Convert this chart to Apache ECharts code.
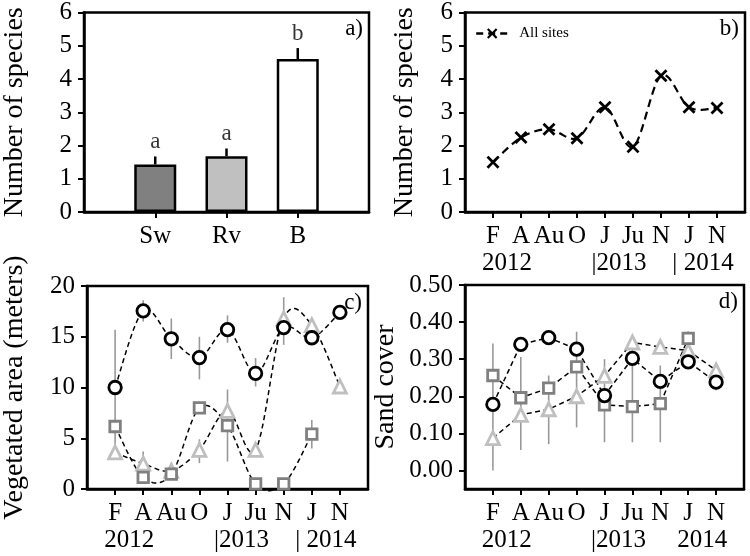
<!DOCTYPE html>
<html><head><meta charset="utf-8">
<script src="https://cdn.jsdelivr.net/npm/echarts@6/dist/echarts.min.js"></script>
<style>html,body{margin:0;padding:0;background:#fff}#c{width:750px;height:556px}</style>
</head><body><div id="c"></div><script>
const FONT = 'Liberation Serif';
// ---- panel a ----
const sites = ['Sw', 'Rv', 'B'];
const siteMeans = [1.43, 1.68, 4.60];
const siteErr = [0.24, 0.23, 0.33];
const siteLetters = ['a', 'a', 'b'];
const siteColors = ['#808080', '#c0c0c0', '#ffffff'];
// ---- shared months ----
const months = ['F', 'A', 'Au', 'O', 'J', 'Ju', 'N', 'J', 'N'];
const yearLabelsTop = ['2012', '|2013', '| 2014'];
const yearLabelsD = ['2012', '|2013', '2014'];
// ---- panel b ----
const allSites = [1.5, 2.24, 2.49, 2.22, 3.15, 1.96, 4.10, 3.15, 3.13];
// ---- panel c ----
const vegCircle = [10.0, 17.55, 14.8, 12.95, 15.7, 11.4, 15.9, 14.9, 17.4];
const vegCircleLo = [4.3, 16.5, 12.8, 10.8, 14.4, 10.1, 14.2, null, null];
const vegCircleHi = [15.7, 18.6, 16.8, 15.0, 17.1, 12.9, 18.9, null, null];
const vegSquare = [6.16, 1.15, 1.47, 8.0, 6.25, 0.5, 0.5, 5.4, null];
const vegSquareLo = [null, 0.6, 1.0, null, 2.7, null, null, 4.0, null];
const vegSquareHi = [null, 1.7, 2.06, null, 9.8, null, null, 6.8, null];
const vegTri = [3.6, 2.5, 1.8, 3.86, 7.7, 3.86, 16.8, 16.15, 10.1];
const vegTriLo = [null, 1.4, null, 2.55, null, 3.2, null, null, null];
const vegTriHi = [null, 3.7, null, 4.9, null, 4.5, null, null, null];
// ---- panel d ----
const sandCircle = [0.178, 0.34, 0.358, 0.327, 0.202, 0.302, 0.24, 0.293, 0.238];
const sandSquare = [0.256, 0.196, 0.222, 0.279, 0.177, 0.172, 0.18, 0.356, null];
const sandTri = [0.087, 0.15, 0.165, 0.2, 0.255, 0.345, 0.333, 0.323, 0.27];
const sandErrLo = [0.0, 0.055, 0.071, 0.116, 0.076, 0.076, 0.076, 0.33, 0.216];
const sandErrHi = [0.342, 0.306, 0.256, 0.374, 0.30, 0.345, 0.283, 0.375, 0.26];
const sandTicks = [0, 0.1, 0.2, 0.3, 0.4, 0.5];

const padCats = ['', ...months, ''];
const pad = arr => [null, ...arr, null];

const DARK = '#808080', LIGHT = '#bfbfbf', BLACK = '#000', ERRC = '#999999';
const XPATH = 'path://M0,3 L3,0 L10,7 L17,0 L20,3 L13,10 L20,17 L17,20 L10,13 L3,20 L0,17 L7,10 Z';

function errSeries(xi, lo, hi, color, width) {
  const data = [];
  lo.forEach((l, i) => { if (l != null && hi[i] != null) data.push([i + 1, l, hi[i]]); });
  return {
    type: 'custom', xAxisIndex: xi, yAxisIndex: xi, data, z: 1, silent: true,
    encode: { x: 0, y: [1, 2] },
    renderItem(params, api) {
      const p1 = api.coord([api.value(0), api.value(1)]);
      const p2 = api.coord([api.value(0), api.value(2)]);
      return { type: 'line', shape: { x1: p1[0], y1: p1[1], x2: p2[0], y2: p2[1] },
        style: { stroke: color, lineWidth: width } };
    }
  };
}
// smooth (Catmull-Rom style) dashed curve through the series points
function curveSeries(xi, vals, width, dash) {
  const data = [];
  vals.forEach((v, i) => { if (v != null) data.push([i + 1, v]); });
  return {
    type: 'custom', xAxisIndex: xi, yAxisIndex: xi, data, z: 2, silent: true,
    encode: { x: 0, y: 1 },
    renderItem(params, api) {
      if (params.dataIndex !== 0) return null;
      const pts = vals.map((v, i) => v == null ? null : api.coord([i + 1, v]));
      const children = [];
      let run = [];
      const flush = () => {
        if (run.length > 1) {
          const out = [];
          for (let k = 0; k < run.length - 1; k++) {
            const p0 = run[k - 1] || run[k], p1 = run[k], p2 = run[k + 1], p3 = run[k + 2] || run[k + 1];
            const c1 = [p1[0] + (p2[0] - p0[0]) / 6, p1[1] + (p2[1] - p0[1]) / 6];
            const c2 = [p2[0] - (p3[0] - p1[0]) / 6, p2[1] - (p3[1] - p1[1]) / 6];
            const N = 20;
            for (let s = (k === 0 ? 0 : 1); s <= N; s++) {
              const t = s / N, u = 1 - t;
              out.push([
                u * u * u * p1[0] + 3 * u * u * t * c1[0] + 3 * u * t * t * c2[0] + t * t * t * p2[0],
                u * u * u * p1[1] + 3 * u * u * t * c1[1] + 3 * u * t * t * c2[1] + t * t * t * p2[1]
              ]);
            }
          }
          children.push({ type: 'polyline', shape: { points: out },
            style: { stroke: BLACK, lineWidth: width, lineDash: dash, fill: null } });
        }
        run = [];
      };
      pts.forEach(p => { if (p) run.push(p); else flush(); });
      flush();
      return { type: 'group', children };
    }
  };
}
function markerSeries(xi, name, vals, symbol, size, color, withLine) {
  return {
    type: 'line', name, xAxisIndex: xi, yAxisIndex: xi, data: pad(vals),
    symbol, symbolSize: size, smooth: false, showSymbol: true, z: 3,
    lineStyle: withLine ? { color: BLACK, width: 1.5, type: [5, 3.5] } : { opacity: 0, width: 0 },
    itemStyle: { color: '#fff', borderColor: color, borderWidth: 2.8 },
    emphasis: { disabled: true }, silent: true
  };
}

const axisLineStyle = { show: true, onZero: false, lineStyle: { color: BLACK, width: 2.5 } };
const tickLab = { color: BLACK, fontFamily: FONT, fontSize: 25 };
const nameStyle = { color: BLACK, fontFamily: FONT, fontSize: 28 };

function xCat(gi, data, tickFilter) {
  return {
    type: 'category', gridIndex: gi, data, boundaryGap: false,
    axisLine: axisLineStyle,
    axisTick: { show: true, length: 6, lineStyle: { color: BLACK, width: 2 },
      interval: tickFilter || ((i) => i > 0 && i < data.length - 1) },
    axisLabel: Object.assign({ margin: 12, interval: 0 }, tickLab),
    splitLine: { show: false }
  };
}
function yVal(gi, min, max, interval, name, extra) {
  return Object.assign({
    type: 'value', gridIndex: gi, min, max, interval,
    name, nameLocation: 'middle', nameGap: 52, nameTextStyle: nameStyle,
    axisLine: axisLineStyle,
    axisTick: { show: true, length: 6, lineStyle: { color: BLACK, width: 2 } },
    axisLabel: Object.assign({ margin: 12 }, tickLab),
    splitLine: { show: false }
  }, extra || {});
}

const grids = [
  { left: 82, top: 10, width: 287, height: 202 },
  { left: 465, top: 10, width: 280, height: 202 },
  { left: 86, top: 286, width: 282, height: 203 },
  { left: 465, top: 285, width: 279, height: 204 }
].map(g => Object.assign({ show: true, borderColor: BLACK, borderWidth: 2.5, backgroundColor: '#fff' }, g));

const aCats = ['', ...sites, ''];

const option = {
  animation: false,
  backgroundColor: '#fff',
  grid: grids,
  xAxis: [
    xCat(0, aCats, (i) => i >= 1 && i <= 3),
    xCat(1, padCats),
    xCat(2, padCats),
    xCat(3, padCats)
  ],
  yAxis: [
    yVal(0, 0, 6, 1, 'Number of species', { nameGap: 55 }),
    yVal(1, 0, 6, 1, 'Number of species', { nameGap: 46 }),
    yVal(2, 0, 20, 5, 'Vegetated area (meters)', { nameGap: 58 }),
    yVal(3, -0.05, 0.5, null, 'Sand cover', {
      nameGap: 65,
      axisLabel: Object.assign({ margin: 12, customValues: sandTicks, formatter: v => v.toFixed(2) }, tickLab),
      axisTick: { show: true, length: 6, customValues: sandTicks, lineStyle: { color: BLACK, width: 2 } }
    })
  ],
  legend: {
    show: true, data: ['All sites'], left: 470, top: 21, itemWidth: 32, itemHeight: 13, itemGap: 10,
    lineStyle: { color: BLACK, width: 2.4, type: [7, 5], opacity: 1 },
    textStyle: { fontFamily: FONT, fontSize: 15, color: BLACK, padding: [0, 0, 0, 6] }, selectedMode: false
  },
  series: [
    // panel a
    {
      type: 'bar', xAxisIndex: 0, yAxisIndex: 0, barWidth: 42, z: 2,
      data: [null, ...siteMeans.map((v, i) => ({ value: v, itemStyle: { color: siteColors[i] } })), null],
      itemStyle: { borderColor: BLACK, borderWidth: 2.5 }, emphasis: { disabled: true }
    },
    errSeries(0, siteMeans, siteMeans.map((v, i) => v + siteErr[i]), BLACK, 2.5),
    {
      type: 'scatter', xAxisIndex: 0, yAxisIndex: 0, symbolSize: 0, silent: true,
      data: siteMeans.map((v, i) => ({ value: [i + 1, v + siteErr[i]], label: { formatter: siteLetters[i] } })),
      label: { show: true, position: 'top', distance: 3, color: BLACK, fontFamily: FONT, fontSize: 23 }
    },
    // panel b
    curveSeries(1, allSites, 2.2, [8, 5]),
    Object.assign(markerSeries(1, 'All sites', allSites, XPATH, 13, BLACK, false), {
      itemStyle: { color: BLACK, borderColor: BLACK, borderWidth: 0 }
    }),
    // panel c
    errSeries(2, vegCircleLo, vegCircleHi, ERRC, 1.6),
    errSeries(2, vegSquareLo, vegSquareHi, ERRC, 1.6),
    errSeries(2, vegTriLo, vegTriHi, ERRC, 1.6),
    curveSeries(2, vegTri, 1.5, [5, 3.5]),
    curveSeries(2, vegSquare, 1.5, [5, 3.5]),
    curveSeries(2, vegCircle, 1.5, [5, 3.5]),
    markerSeries(2, 'tri c', vegTri, 'triangle', 13, LIGHT, false),
    markerSeries(2, 'sq c', vegSquare, 'rect', 10.5, DARK, false),
    markerSeries(2, 'circ c', vegCircle, 'circle', 12.5, BLACK, false),
    // panel d
    errSeries(3, sandErrLo, sandErrHi, ERRC, 1.6),
    markerSeries(3, 'tri d', sandTri, 'triangle', 13, LIGHT, true),
    markerSeries(3, 'sq d', sandSquare, 'rect', 10.5, DARK, true),
    markerSeries(3, 'circ d', sandCircle, 'circle', 12.5, BLACK, true)
  ]
};

const chart = echarts.init(document.getElementById('c'), null, { renderer: 'canvas' });
chart.setOption(option);

// panel tags and year labels, positioned from the axes
function px(axisIdx, catIdx) { return chart.convertToPixel({ xAxisIndex: axisIdx }, catIdx); }
function gridRect(i) { return chart.getModel().getComponent('grid', i).coordinateSystem.getRect(); }
const graphics = [];
const tags = ['a)', 'b)', 'c)', 'd)'];
tags.forEach((t, i) => {
  const r = gridRect(i);
  graphics.push({ type: 'text', right: 750 - (r.x + r.width) + 6, top: r.y + 5,
    style: { text: t, fontFamily: FONT, fontSize: 23, fill: BLACK } });
});
function years(axisIdx, labels) {
  const r = gridRect(axisIdx);
  const pairs = [[1, 2], [5, 6], [8, 9]];
  pairs.forEach((p, k) => {
    const x = (px(axisIdx, p[0]) + px(axisIdx, p[1])) / 2;
    graphics.push({ type: 'text', x, y: r.y + r.height + 51,
      style: { text: labels[k], fontFamily: FONT, fontSize: 25, fill: BLACK, align: 'center', verticalAlign: 'middle' } });
  });
}
years(1, yearLabelsTop);
years(2, yearLabelsTop);
years(3, yearLabelsD);
chart.setOption({ graphic: graphics });
</script></body></html>
